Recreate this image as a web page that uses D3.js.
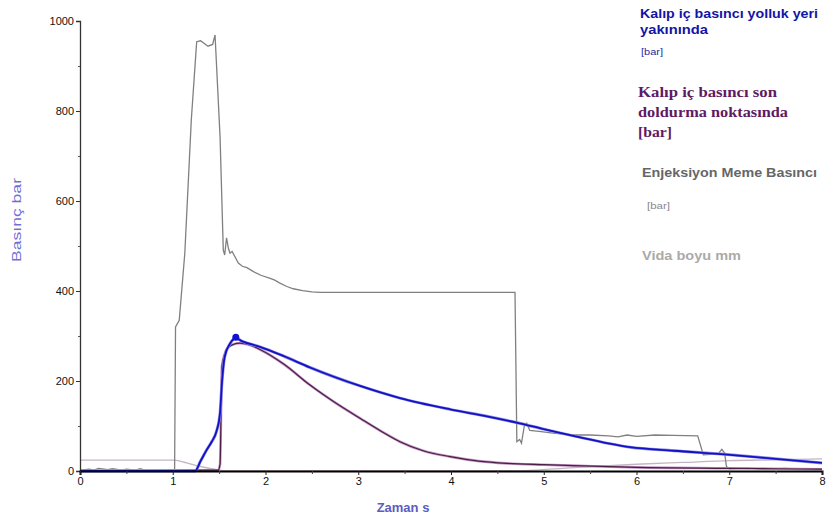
<!DOCTYPE html>
<html>
<head>
<meta charset="utf-8">
<script src="https://cdn.jsdelivr.net/npm/d3@7/dist/d3.min.js"></script>
<style>
  html, body { margin: 0; padding: 0; background: #fff; }
  svg { display: block; }
</style>
</head>
<body>
<svg id="chart" width="829" height="523"></svg>
<script>
// ---- data ----
const xTicks = [0, 1, 2, 3, 4, 5, 6, 7, 8];
const xMinorTicks = [0.5, 1.5, 2.5, 3.5, 4.5, 5.5, 6.5, 7.5];
const yTicks = [0, 200, 400, 600, 800, 1000];
const yMinorTicks = [100, 300, 500, 700, 900];

// Enjeksiyon Meme Basıncı [bar]
const memeT = [0, 0.1, 0.15, 0.2, 0.3, 0.35, 0.45, 0.5, 0.6, 0.65, 0.7, 0.8, 1.0, 1.02, 1.03, 1.07, 1.13, 1.2, 1.258, 1.3, 1.38, 1.43, 1.456, 1.51, 1.545, 1.56, 1.58, 1.6, 1.617, 1.64, 1.707, 1.75, 1.8, 1.87, 1.95, 2.05, 2.1, 2.15, 2.23, 2.3, 2.4, 2.5, 2.59, 4.69, 4.71, 4.74, 4.76, 4.79, 4.816, 4.85, 4.95, 5.1, 5.32, 5.5, 5.7, 5.8, 5.9, 6.0, 6.2, 6.4, 6.66, 6.72, 6.88, 6.92, 6.95, 6.97, 7.0, 7.2, 7.4, 7.6, 7.8, 8];
const memeV = [2, 4, 2, 6, 3, 5, 2, 4, 2, 5, 2, 2, 2, 2, 320, 335, 484, 780, 954, 956, 944, 948, 969, 743, 491, 480, 518, 495, 484, 488, 462, 455, 452, 443, 435, 428, 424, 418, 410, 405, 401, 398, 397, 397, 65, 70, 62, 100, 106, 90, 88, 84, 80, 80, 78, 76, 80, 77, 80, 79, 78, 36, 38, 48, 40, 10, 5, 7, 4, 6, 4, 5];

// Vida boyu mm
const vidaT = [0, 1.02, 1.15, 1.3, 1.45, 1.55, 4.8, 5.2, 5.6, 6.0, 6.5, 7.0, 7.5, 8];
const vidaV = [24, 24, 18, 10, 4, 1, 1, 6, 11, 15, 19, 23, 25, 27];

// Kalıp iç basıncı yolluk yeri yakınında [bar]
const yollukT = [0, 1.24, 1.3, 1.366, 1.42, 1.47, 1.51, 1.53, 1.56, 1.62, 1.68, 1.75, 1.94, 2.2, 2.48, 3.02, 3.45, 3.99, 4.4, 4.74, 5.0, 5.32, 5.93, 6.4, 7.01, 7.5, 8];
const yollukV = [0, 0, 22, 47, 65, 87, 129, 195, 254, 284, 295, 288, 276, 255, 230, 189, 162, 137, 121, 106, 93, 78, 53, 45, 36, 27, 18];
const yollukPeak = [1.68, 297];

// Kalıp iç basıncı son doldurma noktasında [bar]
const sonT = [0, 1.49, 1.51, 1.53, 1.56, 1.6, 1.65, 1.725, 1.83, 1.94, 2.2, 2.48, 2.75, 3.02, 3.25, 3.45, 3.7, 3.99, 4.3, 4.6, 5.0, 5.32, 6.0, 7.0, 7.5, 8];
const sonV = [0, 2, 15, 232, 260, 275, 281, 284, 280, 270, 237, 191, 152, 117, 88, 65, 45, 32, 22, 17, 14, 12, 8, 6, 5, 4];

// ---- layout ----
const svg = d3.select("#chart");
const x = d3.scaleLinear().domain([0, 8]).range([80, 822]);
const y = d3.scaleLinear().domain([0, 1000]).range([471, 21]);
const line = d3.line().x(d => x(d[0])).y(d => y(d[1]));
const smooth = d3.line().x(d => x(d[0])).y(d => y(d[1])).curve(d3.curveMonotoneX);
const zip = (a, b) => a.map((t, i) => [t, b[i]]);

svg.append("rect").attr("width", 829).attr("height", 523).attr("fill", "#fff");

// Series
svg.append("path").datum(zip(vidaT, vidaV)).attr("d", smooth)
  .attr("fill", "none").attr("stroke", "#c2b6c2").attr("stroke-width", 1.3);
svg.append("path").datum(zip(memeT, memeV)).attr("d", line)
  .attr("fill", "none").attr("stroke", "#808080").attr("stroke-width", 1.3);
svg.append("path").datum(zip(sonT, sonV)).attr("d", smooth)
  .attr("fill", "none").attr("stroke", "#c496c4").attr("stroke-width", 2.6);
svg.append("path").datum(zip(sonT, sonV)).attr("d", smooth)
  .attr("fill", "none").attr("stroke", "#4a1e46").attr("stroke-width", 1.2);
svg.append("path").datum(zip(yollukT, yollukV)).attr("d", smooth)
  .attr("fill", "none").attr("stroke", "#8f8fe6").attr("stroke-width", 3);
svg.append("path").datum(zip(yollukT, yollukV)).attr("d", smooth)
  .attr("fill", "none").attr("stroke", "#1212c4").attr("stroke-width", 1.8);
svg.append("circle").attr("cx", x(yollukPeak[0])).attr("cy", y(yollukPeak[1]))
  .attr("r", 3.5).attr("fill", "#1212d0");

// Axes
const fontAx = "'Liberation Sans', Arial, sans-serif";
const gy = svg.append("g").attr("transform", "translate(80,0)")
  .call(d3.axisLeft(y).tickValues(yTicks).tickSize(4).tickPadding(2).tickFormat(d3.format("d")));
gy.select(".domain").attr("stroke", "#333").attr("stroke-width", 1.3);
gy.selectAll(".tick line").attr("stroke", "#333");
gy.selectAll("text").attr("font-family", fontAx).attr("font-size", 11).attr("fill", "#111");
const gyMinor = svg.append("g").attr("transform", "translate(80,0)")
  .call(d3.axisLeft(y).tickValues(yMinorTicks).tickSize(2).tickFormat(""));
gyMinor.select(".domain").remove();
gyMinor.selectAll(".tick line").attr("stroke", "#555");

const gx = svg.append("g").attr("transform", "translate(0,471)")
  .call(d3.axisBottom(x).tickValues(xTicks).tickSize(4).tickPadding(2).tickFormat(d3.format("d")));
gx.select(".domain").attr("stroke", "#000").attr("stroke-width", 2);
gx.selectAll(".tick line").attr("stroke", "#222");
gx.selectAll("text").attr("font-family", fontAx).attr("font-size", 11).attr("fill", "#111");
const gxMinor = svg.append("g").attr("transform", "translate(0,471)")
  .call(d3.axisBottom(x).tickValues(xMinorTicks).tickSize(3).tickFormat(""));
gxMinor.select(".domain").remove();
gxMinor.selectAll(".tick line").attr("stroke", "#444");

// Axis titles
svg.append("text").attr("transform", "translate(21,220) rotate(-90)")
  .attr("text-anchor", "middle").attr("font-family", fontAx).attr("font-size", 12)
  .attr("fill", "#6f6fd6")
  .attr("textLength", 84).attr("lengthAdjust", "spacingAndGlyphs").text("Basınç bar");
svg.append("text").attr("x", 403).attr("y", 512)
  .attr("text-anchor", "middle").attr("font-family", fontAx).attr("font-size", 13)
  .attr("font-weight", "bold").attr("fill", "#5c5cc0").text("Zaman s");

// Legend texts
const serif = "'Liberation Serif', 'Times New Roman', serif";
const leg = [
  { t: "Kalıp iç basıncı yolluk yeri", x: 640, y: 18, s: 13, w: "bold", c: "#1414a6", f: fontAx, L: 178 },
  { t: "yakınında", x: 640, y: 34, s: 13, w: "bold", c: "#1414a6", f: fontAx, L: 68 },
  { t: "[bar]", x: 641, y: 55, s: 9, w: "normal", c: "#2a2aa0", f: fontAx, L: 22 },
  { t: "Kalıp iç basıncı son", x: 638, y: 97, s: 15, w: "bold", c: "#5e1a62", f: serif, L: 139 },
  { t: "doldurma noktasında", x: 638, y: 117, s: 15, w: "bold", c: "#5e1a62", f: serif, L: 150 },
  { t: "[bar]", x: 638, y: 137, s: 15, w: "bold", c: "#5e1a62", f: serif, L: 34 },
  { t: "Enjeksiyon Meme Basıncı", x: 642, y: 177, s: 13, w: "bold", c: "#666666", f: fontAx, L: 175 },
  { t: "[bar]", x: 647, y: 209, s: 9, w: "normal", c: "#888888", f: fontAx, L: 23 },
  { t: "Vida boyu mm", x: 642, y: 260, s: 13, w: "bold", c: "#aaaaaa", f: fontAx, L: 99 }
];
svg.append("g").selectAll("text").data(leg).join("text")
  .attr("x", d => d.x).attr("y", d => d.y)
  .attr("font-family", d => d.f).attr("font-size", d => d.s)
  .attr("font-weight", d => d.w).attr("fill", d => d.c)
  .attr("textLength", d => d.L).attr("lengthAdjust", "spacingAndGlyphs")
  .text(d => d.t);
</script>
</body>
</html>
